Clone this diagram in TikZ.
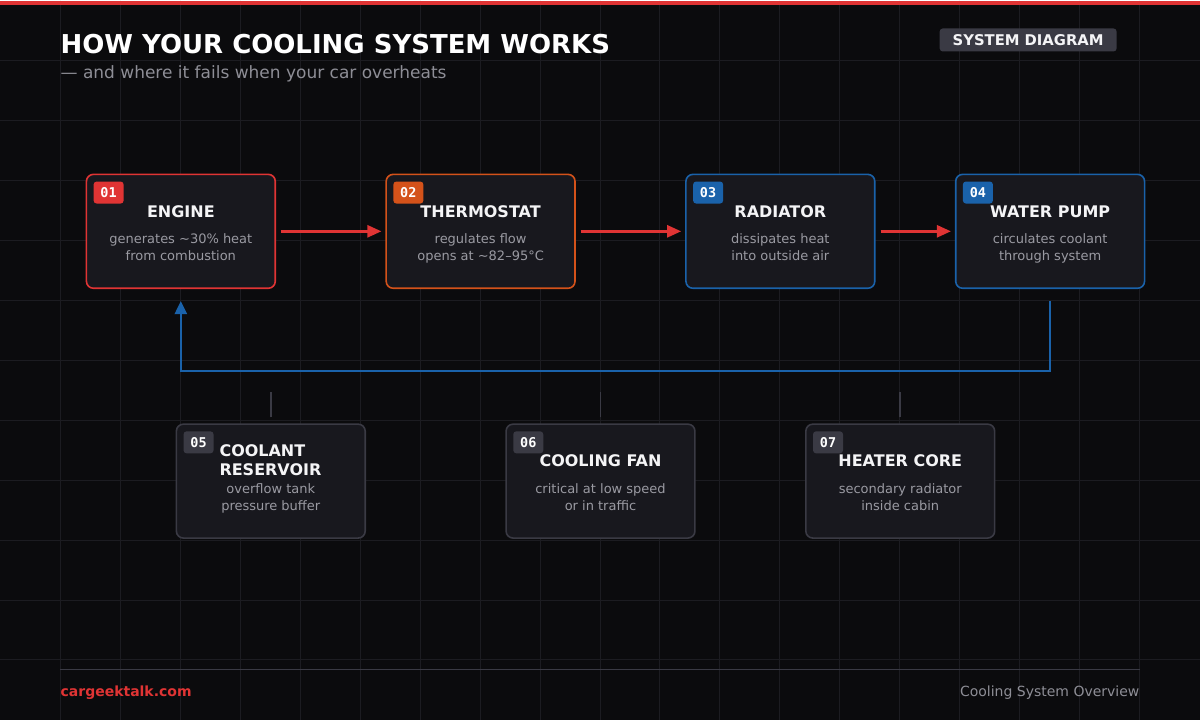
\documentclass[tikz,border=0pt]{standalone}
\usepackage{fontspec}
\setmainfont{DejaVu Sans}
\newfontfamily\badgefont{DejaVu Sans Mono}
\usetikzlibrary{arrows.meta}

\definecolor{bg}{HTML}{0B0B0D}
\definecolor{gridline}{HTML}{1C1C21}
\definecolor{boxfill}{HTML}{18181E}
\definecolor{hotred}{HTML}{E03434}
\definecolor{thermo}{HTML}{D4521A}
\definecolor{coolblue}{HTML}{1A62AA}
\definecolor{slate}{HTML}{3A3A44}
\definecolor{titletext}{HTML}{F4F4F6}
\definecolor{notetext}{HTML}{9A9AA2}
\definecolor{subtext}{HTML}{8E8E96}

\tikzset{
  stage/.style={draw=#1, line width=1.6pt, fill=boxfill, rounded corners=7pt,
    minimum width=189pt, minimum height=114pt, inner sep=0pt},
  badge/.style={fill=#1, rounded corners=3pt, minimum width=30pt, minimum height=22pt,
    inner sep=0pt, anchor=north west, text=white,
    font=\badgefont\bfseries\fontsize{13.5}{13.5}\selectfont},
  heading/.style={text=titletext, anchor=base, inner sep=0pt,
    font=\bfseries\fontsize{16}{18.5}\selectfont},
  blurb/.style={text=notetext, anchor=base, align=center, inner sep=0pt,
    font=\fontsize{13}{17}\selectfont},
  flow/.style={draw=hotred, line width=2.5pt, -{Triangle[length=14pt,width=12pt]},
    shorten <=5pt, shorten >=4pt},
  loopback/.style={draw=coolblue, line width=2.5pt, -{Triangle[length=13pt,width=12pt]},
    shorten <=12pt, shorten >=12pt},
  stub/.style={draw=slate, line width=1.6pt}
}

\begin{document}
\begin{tikzpicture}[x=1pt, y=-1pt]
  % backdrop and grid
  \fill[bg] (0,0) rectangle (1200,720);
  \foreach \x in {60,120,...,1140}
    \draw[gridline, line width=1pt] (\x,0) -- (\x,720);
  \foreach \y in {60,120,...,660}
    \draw[gridline, line width=1pt] (0,\y) -- (1200,\y);
  \fill[hotred] (0,0) rectangle (1200,5);

  % header
  \node[anchor=base west, inner sep=0pt, text=white, font=\bfseries\fontsize{26}{30}\selectfont]
    (title) at (60,53) {HOW YOUR COOLING SYSTEM WORKS};
  \node[anchor=base west, inner sep=0pt, text=subtext, font=\fontsize{17}{20}\selectfont]
    (subtitle) at (60,78) {--- and where it fails when your car overheats};
  \node[fill=slate, rounded corners=3pt, minimum width=177pt, minimum height=23pt, inner sep=0pt,
    text=titletext, font=\bfseries\fontsize{14.8}{15}\selectfont]
    (kind) at (1028.5,39.5) {SYSTEM DIAGRAM};

  % main loop
  \node[stage=hotred] (engine) at (180.5,231) {};
  \node[stage=thermo] (thermostat) at (480.5,231) {};
  \node[stage=coolblue] (radiator) at (780.5,231) {};
  \node[stage=coolblue] (pump) at (1050.5,231) {};

  \node[badge=hotred] (b1) at (93,181) {01};
  \node[badge=thermo] (b2) at (393,181) {02};
  \node[badge=coolblue] (b3) at (693,181) {03};
  \node[badge=coolblue] (b4) at (963,181) {04};

  \node[heading] (engine-t) at (180.5,217) {ENGINE};
  \node[blurb] (engine-d) at (180.5,260) {generates \textasciitilde30\% heat\\from combustion};
  \node[heading] (thermostat-t) at (480.5,217) {THERMOSTAT};
  \node[blurb] (thermostat-d) at (480.5,260) {regulates flow\\opens at \textasciitilde82–95°C};
  \node[heading] (radiator-t) at (780.5,217) {RADIATOR};
  \node[blurb] (radiator-d) at (780.5,260) {dissipates heat\\into outside air};
  \node[heading] (pump-t) at (1050.5,217) {WATER PUMP};
  \node[blurb] (pump-d) at (1050.5,260) {circulates coolant\\through system};

  \draw[flow] (engine) -- (thermostat);
  \draw[flow] (thermostat) -- (radiator);
  \draw[flow] (radiator) -- (pump);
  \draw[loopback] (pump.south) -- ++(0,82) -| (engine.south);

  % side components
  \node[stage=slate] (reservoir) at (270.5,481) {};
  \node[stage=slate] (fan) at (600.5,481) {};
  \node[stage=slate] (heater) at (900.5,481) {};

  \node[badge=slate] (b5) at (183,431) {05};
  \node[badge=slate] (b6) at (513,431) {06};
  \node[badge=slate] (b7) at (813,431) {07};

  \node[heading, anchor=base west, align=left] (reservoir-t) at (219,475) {COOLANT\\RESERVOIR};
  \node[blurb] (reservoir-d) at (270.5,510) {overflow tank\\pressure buffer};
  \node[heading] (fan-t) at (600.5,466) {COOLING FAN};
  \node[blurb] (fan-d) at (600.5,510) {critical at low speed\\or in traffic};
  \node[heading] (heater-t) at (900.5,466) {HEATER CORE};
  \node[blurb] (heater-d) at (900.5,510) {secondary radiator\\inside cabin};

  \draw[stub] ([yshift=6pt]reservoir.north) -- ++(0,-25);
  \draw[stub] ([yshift=6pt]fan.north) -- ++(0,-25);
  \draw[stub] ([yshift=6pt]heater.north) -- ++(0,-25);

  % footer
  \draw[slate, line width=1pt] (60,670) -- (1140,670);
  \node[anchor=base west, inner sep=0pt, text=hotred, font=\bfseries\fontsize{14}{14}\selectfont]
    (site) at (60,697) {cargeektalk.com};
  \node[anchor=base east, inner sep=0pt, text=subtext, font=\fontsize{14}{14}\selectfont]
    (caption) at (1140,697) {Cooling System Overview};
\end{tikzpicture}
\end{document}
